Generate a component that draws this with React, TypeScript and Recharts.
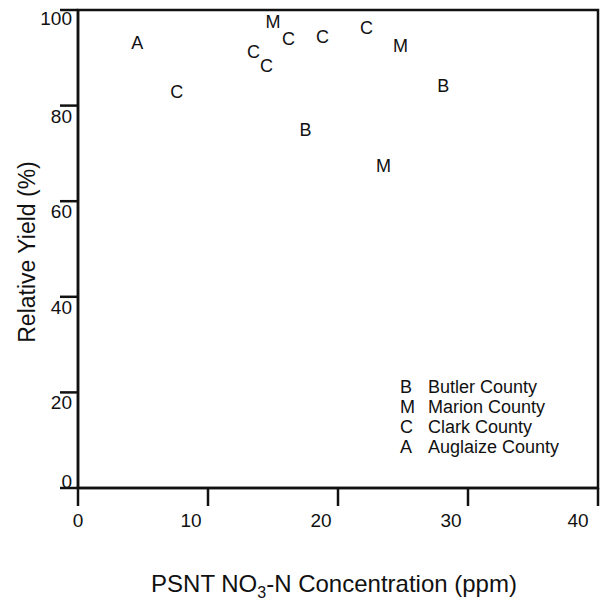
import { ScatterChart, Scatter, XAxis, YAxis, ReferenceArea, Label } from 'recharts';

// PSNT NO3-N (ppm) vs relative yield (%), one list per county
const butlerX = [17.5, 28.1];
const butlerY = [74.8, 84];
const marionX = [15.0, 24.8, 23.5];
const marionY = [97.5, 92.5, 67.3];
const clarkX = [7.6, 13.5, 14.5, 16.2, 18.8, 22.2];
const clarkY = [82.9, 91.2, 88.3, 94.0, 94.4, 96.3];
const auglaizeX = [4.55];
const auglaizeY = [93.1];

const xTicks = [0, 10, 20, 30, 40];
const yTicks = [0, 20, 40, 60, 80, 100];

const counties = [
  { key: 'B', name: 'Butler County', xs: butlerX, ys: butlerY },
  { key: 'M', name: 'Marion County', xs: marionX, ys: marionY },
  { key: 'C', name: 'Clark County', xs: clarkX, ys: clarkY },
  { key: 'A', name: 'Auglaize County', xs: auglaizeX, ys: auglaizeY },
];

const FONT = '"Liberation Sans", Arial, Helvetica, sans-serif';
const INK = '#111';

const toPoints = (xs: number[], ys: number[]) => xs.map((x, i) => ({ x, y: ys[i] }));

const letterShape = (letter: string) => (props: any) => (
  <text
    x={props.cx}
    y={props.cy}
    textAnchor="middle"
    dominantBaseline="central"
    fontFamily={FONT}
    fontSize={18}
    fill={INK}
  >
    {letter}
  </text>
);

const XTick = (props: any) => {
  const { x, y, payload } = props;
  const dx = payload.value === 0 ? 0 : -17;
  return (
    <text x={x + dx} y={y + 19} textAnchor="middle" fontFamily={FONT} fontSize={19} fill={INK}>
      {payload.value}
    </text>
  );
};

const YTick = (props: any) => {
  const { x, y, payload } = props;
  const dy = payload.value === 0 ? 0 : payload.value === 100 ? 15 : 17;
  return (
    <text x={x + 14} y={y + dy} textAnchor="end" fontFamily={FONT} fontSize={19} fill={INK}>
      {payload.value}
    </text>
  );
};

const LegendBox = () => (
  <div style={{ fontFamily: FONT, fontSize: 18, color: INK, lineHeight: '20px' }}>
    {counties.map((c) => (
      <div key={c.key} style={{ display: 'flex' }}>
        <span style={{ width: 28, textAlign: 'left' }}>{c.key}</span>
        <span>{c.name}</span>
      </div>
    ))}
  </div>
);

export default function App() {
  return (
    <div style={{ position: 'absolute', left: 0, top: 0, width: 603, height: 603, background: '#fff' }}>
      <ScatterChart width={603} height={603} margin={{ top: 10, right: 5, left: 0, bottom: 0 }}>
        <XAxis
          type="number"
          dataKey="x"
          domain={[0, 40]}
          ticks={xTicks}
          height={115}
          axisLine={{ stroke: INK, strokeWidth: 2.5 }}
          tickLine={{ stroke: INK, strokeWidth: 2.5 }}
          tickSize={18}
          tick={<XTick />}
        >
          <Label
            position="insideBottom"
            content={(p: any) => {
              const vb = p.viewBox;
              return (
                <text
                  x={vb.x + vb.width / 2 - 4}
                  y={vb.y + 104}
                  textAnchor="middle"
                  fontFamily={FONT}
                  fontSize={24}
                  fill={INK}
                >
                  PSNT NO
                  <tspan dy={6} fontSize={16}>3</tspan>
                  <tspan dy={-6}>-N Concentration (ppm)</tspan>
                </text>
              );
            }}
          />
        </XAxis>
        <YAxis
          type="number"
          dataKey="y"
          domain={[0, 100]}
          ticks={yTicks}
          width={78}
          axisLine={{ stroke: INK, strokeWidth: 2.5 }}
          tickLine={{ stroke: INK, strokeWidth: 2.5 }}
          tickSize={18}
          tick={<YTick />}
        >
          <Label
            content={(p: any) => {
              const vb = p.viewBox;
              const cy = vb.y + vb.height / 2 + 3;
              return (
                <text
                  x={27}
                  y={cy}
                  transform={`rotate(-90, 27, ${cy})`}
                  textAnchor="middle"
                  dominantBaseline="central"
                  fontFamily={FONT}
                  fontSize={23}
                  fill={INK}
                >
                  Relative Yield (%)
                </text>
              );
            }}
          />
        </YAxis>
        <ReferenceArea
          x1={0}
          x2={40}
          y1={0}
          y2={100}
          fill="none"
          stroke={INK}
          strokeWidth={2.5}
          ifOverflow="visible"
        />
        {counties.map((c) => (
          <Scatter
            key={c.key}
            name={c.name}
            data={toPoints(c.xs, c.ys)}
            shape={letterShape(c.key)}
            isAnimationActive={false}
          />
        ))}
      </ScatterChart>
      <div style={{ position: 'absolute', left: 400, top: 377 }}>
        <LegendBox />
      </div>
    </div>
  );
}
